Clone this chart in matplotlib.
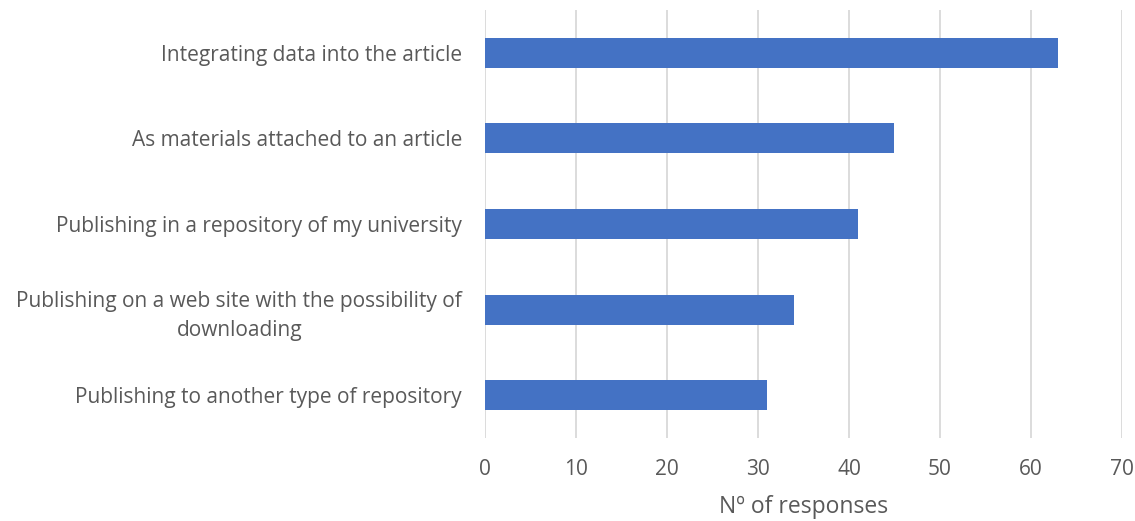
import matplotlib.pyplot as plt

plt.rcParams['font.family'] = ['Open Sans', 'DejaVu Sans']

categories = [
    "Integrating data into the article",
    "As materials attached to an article",
    "Publishing in a repository of my university",
    "Publishing on a web site with the possibility of\ndownloading",
    "Publishing to another type of repository",
]
responses = [63, 45, 41, 34, 31]
xticks = [0, 10, 20, 30, 40, 50, 60, 70]

text_color = '#595959'

fig = plt.figure(figsize=(11.35, 5.21), dpi=100)
ax = fig.add_axes([0.4273, 0.1593, 0.5612, 0.8215])

ypos = list(range(len(categories)))
ax.barh(ypos, responses, height=0.35, color='#4472C4', zorder=3)
ax.set_yticks(ypos)
ax.set_yticklabels(categories, fontsize=15, color=text_color, ha='right',
                   multialignment='center', linespacing=1.5)
ax.set_ylim(len(categories) - 0.5, -0.5)

ax.set_xlim(0, 70)
ax.set_xticks(xticks)
ax.set_xticklabels([str(t) for t in xticks], fontsize=15, color=text_color)
ax.xaxis.grid(True, color='#d9d9d9', linewidth=1.3, zorder=0)
ax.tick_params(axis='both', length=0)
ax.tick_params(axis='x', pad=15)
ax.tick_params(axis='y', pad=16.5)
for s in ax.spines.values():
    s.set_visible(False)

ax.set_xlabel('Nº of responses', fontsize=16.5, color=text_color, labelpad=11)

fig.savefig('out.png', dpi=100)
